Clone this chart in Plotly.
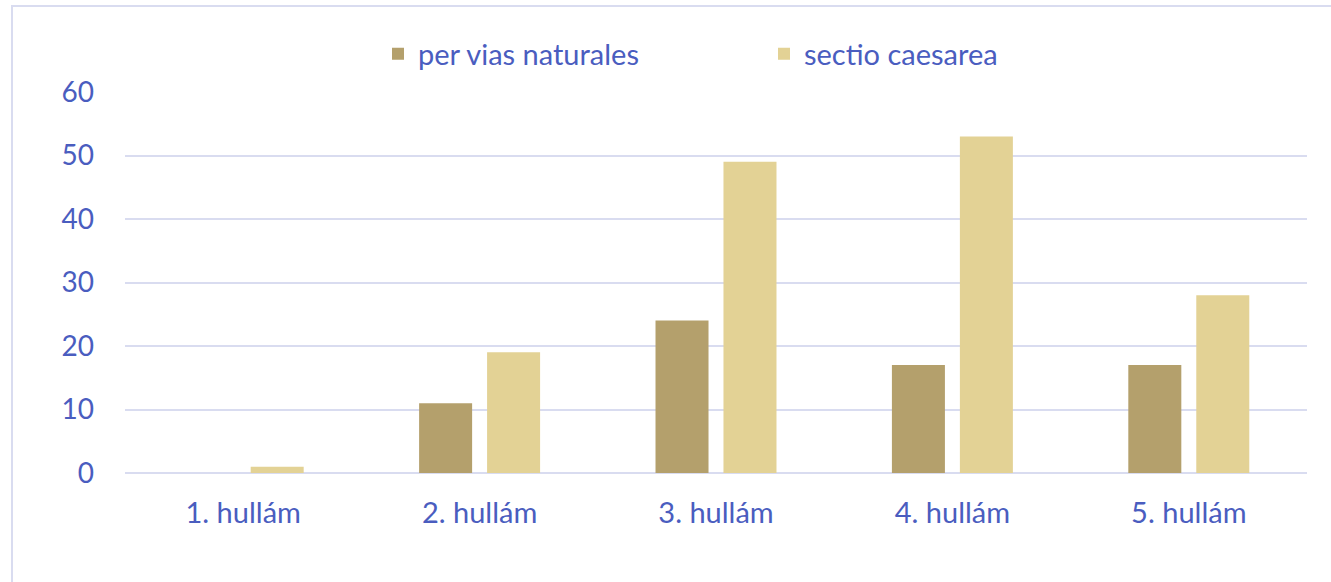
import plotly.graph_objects as go

categories = ['1. hullám', '2. hullám', '3. hullám', '4. hullám', '5. hullám']
per_vias_naturales = [0, 11, 24, 17, 17]
sectio_caesarea = [1, 19, 49, 53, 28]

text_color = '#4A5DBF'
grid_color = '#D9DCF0'
font_family = 'Lato, Noto Sans, sans-serif'
font_size = 29

fig = go.Figure()
fig.add_trace(go.Bar(x=categories, y=per_vias_naturales, name='per vias naturales',
                     marker=dict(color='#B4A06C', line_width=0)))
fig.add_trace(go.Bar(x=categories, y=sectio_caesarea, name='sectio caesarea',
                     marker=dict(color='#E3D295', line_width=0)))

# plot area in pixels: x 125..1307, y 92..473
W, H = 1331, 582
l, r, t, b = 125, 24, 92, 109
pw, ph = W - l - r, H - t - b

def px_x(px):
    return (px - l) / pw

def px_y(py):
    return (H - b - py) / ph

# outer chart border (only top and left visible in the picture)
fig.add_shape(type='rect', xref='paper', yref='paper',
              x0=px_x(12), x1=px_x(W + 10), y0=px_y(H + 10), y1=px_y(6),
              line=dict(color=grid_color, width=2), layer='below')

fig.update_layout(
    width=W, height=H,
    margin=dict(l=l, r=r, t=t, b=b, autoexpand=False),
    paper_bgcolor='white', plot_bgcolor='white',
    font=dict(family=font_family, size=font_size, color=text_color),
    barmode='group', bargap=0.425, bargroupgap=0.22,
    showlegend=True,
    legend=dict(orientation='h', x=px_x(378), xanchor='left', y=px_y(54), yanchor='middle',
                font=dict(size=font_size, color=text_color), entrywidth=341,
                itemclick=False, bgcolor='rgba(0,0,0,0)'),
    xaxis=dict(showgrid=False, showline=False, ticks='', ticklabelstandoff=20,
               tickfont=dict(size=font_size, color=text_color)),
    yaxis=dict(range=[0, 60], dtick=10, showgrid=True, gridcolor=grid_color, gridwidth=1.5,
               zeroline=True, zerolinecolor=grid_color, zerolinewidth=2,
               showline=False, ticks='', ticklabelstandoff=30,
               tickfont=dict(size=font_size - 1, color=text_color)),
)

# the page body has a default 8px margin; drop it so the figure fills the window
fig.write_html("out.html", config={'displayModeBar': False},
               post_script="document.body.style.margin='0';")
